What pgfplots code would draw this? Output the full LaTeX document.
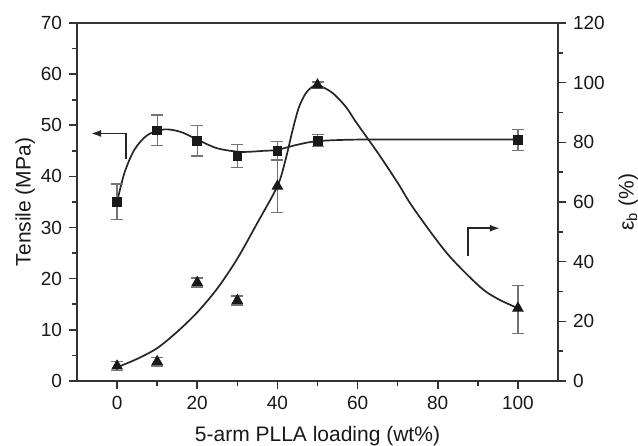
\documentclass[border=0pt]{standalone}
\usepackage{fontspec}
\setmainfont{Liberation Sans}
\usepackage{pgfplots}
\usepackage{pgfplotstable}
\pgfplotsset{compat=1.18}
\usetikzlibrary{arrows.meta}

% tensile strength, MPa (left axis)
\pgfplotstableread{
x   y     ep   em
0   35.0  3.5  3.5
10  49.0  3.0  3.0
20  47.0  3.0  3.0
30  44.0  2.3  2.2
40  45.0  1.9  1.9
50  47.0  1.2  1.2
100 47.1  2.0  2.0
}\tensile

% elongation at break, % (right axis)
\pgfplotstableread{
x   y     ep   em
0   5.0   1.5  1.5
10  6.5   1.5  1.5
20  33.0  1.5  1.5
30  27.0  1.5  1.5
40  65.3  8.8  8.7
50  99.2  1.0  1.0
100 24.4  7.6  8.4
}\elong

\begin{document}
\begin{tikzpicture}
\pgfplotsset{
  every axis/.append style={
    scale only axis, width=240.5pt, height=179pt,
    xmin=-10, xmax=110,
    tick align=outside,
    /pgf/number format/assume math mode=true,
    tick label style={font=\fontsize{9.5}{11}\selectfont, text=black!90},
    label style={font=\fontsize{10.5}{12}\selectfont, text=black!90},
    axis line style={line width=0.9pt, black!80},
    major tick length=4pt, minor tick length=2.5pt,
    every tick/.style={black!80, line width=0.8pt},
  }
}
\begin{axis}[
  name=ax,
  ymin=0, ymax=70, ytick={0,10,...,70}, minor y tick num=1,
  xtick={0,20,...,100}, minor x tick num=1,
  xtick pos=bottom, ytick pos=left,
  xlabel={5-arm PLLA loading (wt\%)},
  ylabel={Tensile (MPa)},
  xlabel style={yshift=-1.5pt},
  ylabel style={yshift=-4pt},
]
\coordinate (bl) at (rel axis cs:0,0);
\coordinate (tr) at (rel axis cs:1,1);
% fitted curve
\addplot[black!85, line width=0.85pt, smooth, no markers] coordinates {
  (0,35) (1.8,40.6) (4.3,45.2) (7.6,48.1) (11.8,49.2) (15.9,48.7)
  (20,47.2) (25,45.5) (30.8,44.8) (36.6,45.0) (40,45.2) (45,46.2)
  (50,46.9) (60,47.2) (80,47.2) (100,47.2)
};
\addplot[only marks, mark=square*, mark size=2.2pt, black!90,
  error bars/.cd, y dir=both, y explicit,
  error bar style={black!55, line width=0.6pt},
  error mark options={rotate=90, mark size=3pt, black!55, line width=0.6pt}]
  table[x=x, y=y, y error plus=ep, y error minus=em] {\tensile};
\draw[black!85, line width=0.8pt, -{Latex[length=5pt, width=3.5pt]}]
  (axis cs:2.2,43.4) -- (axis cs:2.2,48.4) -- (axis cs:-6.5,48.4);
\end{axis}

\begin{axis}[
  ymin=0, ymax=120, ytick={0,20,...,120}, minor y tick num=1,
  axis x line=none, axis y line*=right,
  ylabel={ε\textsubscript{b} (\%)},
]
\addplot[black!85, line width=0.85pt, smooth, no markers] coordinates {
  (0,4.6) (5,7.4) (10,11) (15,16.5) (20,23) (25,31) (30,41)
  (35,53) (40,65.3) (42,74) (43.7,83.6) (45.3,91.5) (47,96.3)
  (48.5,98.4) (50.1,99.2) (53.7,96.6) (57,92) (59.5,87) (62.4,81.5)
  (65.7,75.2) (70.2,66) (74,57.8) (82.3,42.8) (90.5,31.6) (95,27.5)
  (100,24.4)
};
\addplot[only marks, mark=triangle*, mark size=3pt, black!90,
  error bars/.cd, y dir=both, y explicit,
  error bar style={black!55, line width=0.6pt},
  error mark options={rotate=90, mark size=3pt, black!55, line width=0.6pt}]
  table[x=x, y=y, y error plus=ep, y error minus=em] {\elong};
\draw[black!85, line width=0.8pt, -{Latex[length=5pt, width=3.5pt]}]
  (axis cs:87.6,41.9) -- (axis cs:87.6,51.2) -- (axis cs:95.5,51.2);
\end{axis}

\pgfresetboundingbox
\path ([xshift=-38.5pt, yshift=-32.5pt]bl) rectangle ([xshift=40pt, yshift=11.5pt]tr);
\end{tikzpicture}
\end{document}
